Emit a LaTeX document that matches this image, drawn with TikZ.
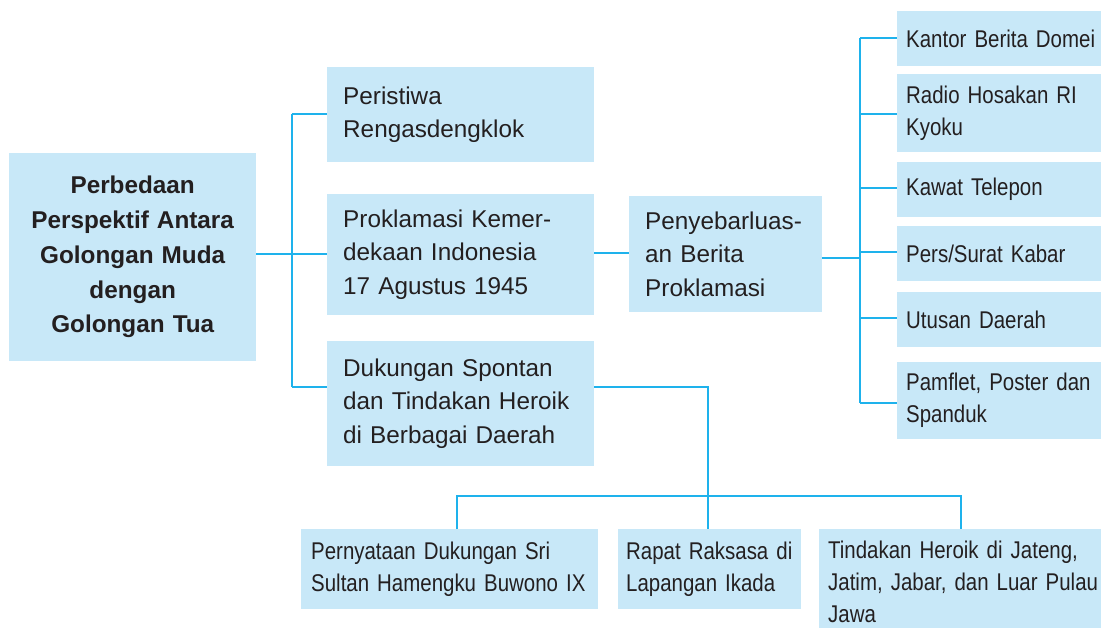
\documentclass[tikz,border=0pt]{standalone}
\usepackage{fontspec}
\setmainfont{Liberation Sans}
\newfontfamily\condfont{Liberation Sans}[FakeStretch=0.845,WordSpace=0.8]
\definecolor{boxfill}{HTML}{C8E8F8}
\definecolor{linecol}{HTML}{1EB2EC}
\definecolor{txt}{HTML}{231F20}
\newcommand{\tln}[1]{\mbox{#1}}
\begin{document}
\begin{tikzpicture}[x=1pt,y=-1pt,
  box/.style={fill=boxfill, rectangle, anchor=north west, inner ysep=0pt, text=txt, align=left},
  midbox/.style={box, inner xsep=16pt, minimum width=267pt, text width=235pt,
    font=\fontsize{24.3}{33.5}\selectfont},
  rbox/.style={box, inner xsep=9pt, minimum width=218pt, text width=200pt,
    font=\condfont\fontsize{24.2}{32}\selectfont},
  bbox/.style={box, inner ysep=11.5pt, minimum height=80pt, font=\condfont\fontsize{24.2}{32}\selectfont},
  conn/.style={draw=linecol, line width=1.4pt}]
\fill[white] (0,0) rectangle (1101,627);
\useasboundingbox (0,0) rectangle (1101,627);

% main
\node[box, align=center, inner xsep=6pt, minimum width=247pt, minimum height=208pt, text width=235pt,
  font=\bfseries\fontsize{24.3}{34.75}\selectfont] (main) at (9,153)
  {Perbedaan\\Perspektif Antara\\Golongan Muda\\dengan\\Golongan Tua};

% middle column
\node[midbox, minimum height=95pt] (peristiwa) at (327,67) {Peristiwa\\Rengasdengklok};
\node[midbox, minimum height=121pt] (prok) at (327,194) {\tln{Proklamasi Kemer-}\\\tln{dekaan Indonesia}\\\tln{17 Agustus 1945}};
\node[midbox, minimum height=125pt] (dukungan) at (327,341) {\tln{Dukungan Spontan}\\\tln{dan Tindakan Heroik}\\\tln{di Berbagai Daerah}};

\node[midbox, minimum width=193pt, text width=161pt, minimum height=116pt] (peny) at (629,196)
  {\tln{Penyebarluas-}\\\tln{an Berita}\\\tln{Proklamasi}};

% right column
\node[rbox, minimum height=55pt] (kantor) at (897,11) {\tln{Kantor Berita Domei}};
\node[rbox, minimum height=78pt] (radio) at (897,74) {\tln{Radio Hosakan RI}\\\tln{Kyoku}};
\node[rbox, minimum height=55pt] (kawat) at (897,162) {\tln{Kawat Telepon}};
\node[rbox, minimum height=55pt] (pers) at (897,226) {\tln{Pers/Surat Kabar}};
\node[rbox, minimum height=55pt] (utusan) at (897,292) {\tln{Utusan Daerah}};
\node[rbox, minimum height=77pt] (pamflet) at (897,362) {\tln{Pamflet, Poster dan}\\\tln{Spanduk}};

% bottom row
\node[bbox, inner xsep=10pt, minimum width=297pt, text width=277pt] (pernyataan) at (301,529)
  {\tln{Pernyataan Dukungan Sri}\\\tln{Sultan Hamengku Buwono IX}};
\node[bbox, inner xsep=8pt, minimum width=183pt, text width=167pt] (rapat) at (618,529)
  {\tln{Rapat Raksasa di}\\\tln{Lapangan Ikada}};
\node[bbox, inner xsep=9pt, minimum width=300pt, text width=282pt] (tindakan) at (819,529)
  {\tln{Tindakan Heroik di Jateng,}\\\tln{Jatim, Jabar, dan Luar Pulau}\\\tln{Jawa}};

% connectors: main to middle column
\coordinate (tA) at (292,114);
\coordinate (tM) at (292,254);
\coordinate (tB) at (292,387);
\draw[conn] (main.east |- tM) -- (tM);
\draw[conn] (tA) -- (tB);
\draw[conn] (tA) -- (peristiwa.west |- tA);
\draw[conn] (tM) -- (prok.west |- tM);
\draw[conn] (tB) -- (dukungan.west |- tB);

% proklamasi to penyebarluasan
\coordinate (pp) at (611,253);
\draw[conn] (prok.east |- pp) -- (peny.west |- pp);

% penyebarluasan to right column
\coordinate (r0) at (860,258);
\coordinate (r1) at (860,38);
\coordinate (r2) at (860,114);
\coordinate (r3) at (860,188);
\coordinate (r4) at (860,252);
\coordinate (r5) at (860,318);
\coordinate (r6) at (860,403);
\draw[conn] (peny.east |- r0) -- (r0);
\draw[conn] (r1) -- (r6);
\draw[conn] (r1) -- (kantor.west |- r1);
\draw[conn] (r2) -- (radio.west |- r2);
\draw[conn] (r3) -- (kawat.west |- r3);
\draw[conn] (r4) -- (pers.west |- r4);
\draw[conn] (r5) -- (utusan.west |- r5);
\draw[conn] (r6) -- (pamflet.west |- r6);

% dukungan to bottom row
\coordinate (b0) at (708,387);
\coordinate (bl) at (457,496);
\coordinate (br) at (961,496);
\draw[conn] (dukungan.east |- b0) -- (b0) -- (b0 |- rapat.north);
\draw[conn] (bl |- pernyataan.north) -- (bl) -- (br) -- (br |- tindakan.north);
\end{tikzpicture}
\end{document}
